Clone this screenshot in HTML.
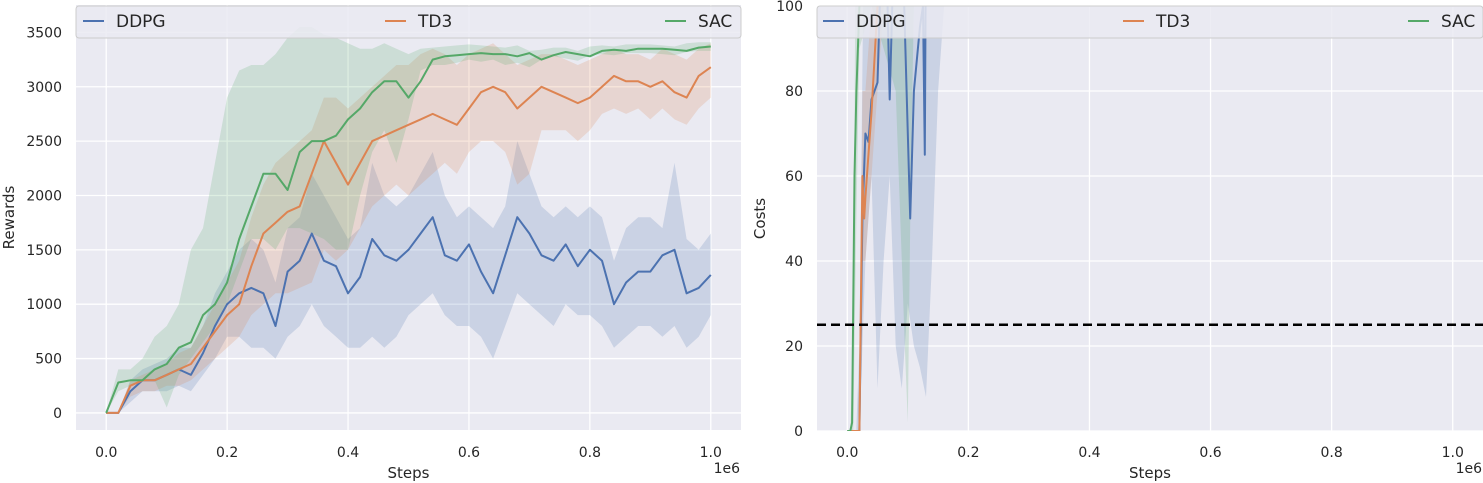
<!DOCTYPE html>
<html><head><meta charset="utf-8"><style>
html,body{margin:0;padding:0;background:#fff;}
svg{display:block;font-family:"DejaVu Sans","Liberation Sans",sans-serif;}
</style></head><body>
<svg id="c" width="1483" height="483" viewBox="0 0 1483 483" xmlns="http://www.w3.org/2000/svg">
<defs>
<clipPath id="clipL"><rect x="76" y="5" width="665" height="425"/></clipPath>
<clipPath id="clipR"><rect x="817" y="6" width="666" height="425"/></clipPath>
</defs>
</svg>
<script>
// ---- Rewards data (steps in 1e6, sampled every 0.02) ----
const rewardSteps = Array.from({length:51},(_, i)=>+(i*0.02).toFixed(2));
const ddpgMean = [0,0,200,300,300,350,400,350,550,800,1000,1100,1150,1100,800,1300,1400,1650,1400,1350,1100,1250,1600,1450,1400,1500,1650,1800,1450,1400,1550,1300,1100,1450,1800,1650,1450,1400,1550,1350,1500,1400,1000,1200,1300,1300,1450,1500,1100,1150,1270];
const ddpgLo = [0,0,100,200,200,200,250,200,350,500,700,700,600,600,500,700,800,1000,800,700,600,600,700,600,700,900,1000,1100,900,800,800,700,500,800,1100,1000,900,800,1000,900,900,800,600,700,800,800,700,800,600,700,900];
const ddpgHi = [0,0,300,400,450,500,600,600,800,1100,1300,1500,1600,1500,1200,1700,1800,2200,2000,1800,1600,1700,2300,2000,1900,2000,2200,2400,2000,1800,1900,1800,1700,1900,2500,2200,1900,1800,1900,1800,1900,1800,1400,1700,1800,1800,1700,2300,1600,1500,1650];
const td3Mean = [0,0,250,300,300,350,400,450,600,750,900,1000,1350,1650,1750,1850,1900,2200,2500,2300,2100,2300,2500,2550,2600,2650,2700,2750,2700,2650,2800,2950,3000,2950,2800,2900,3000,2950,2900,2850,2900,3000,3100,3050,3050,3000,3050,2950,2900,3100,3180];
const td3Lo = [0,0,150,200,200,250,250,300,400,500,600,700,900,1000,1100,1100,1150,1200,1500,1400,1500,1700,1900,2000,2100,2000,2100,2200,2300,2200,2400,2500,2500,2400,2100,2200,2600,2600,2600,2500,2600,2750,2800,2750,2800,2700,2800,2700,2650,2800,2900];
const td3Hi = [0,0,300,350,400,450,550,600,800,1000,1200,1400,1800,2100,2300,2400,2500,2600,2900,2900,2800,2900,3000,3100,3200,3200,3300,3350,3300,3200,3300,3350,3400,3300,3200,3250,3300,3300,3250,3200,3250,3300,3350,3300,3300,3250,3350,3300,3250,3350,3400];
const sacMean = [0,280,300,300,400,450,600,650,900,1000,1200,1600,1900,2200,2200,2050,2400,2500,2500,2550,2700,2800,2950,3050,3050,2900,3050,3250,3280,3290,3300,3310,3300,3300,3280,3310,3250,3290,3320,3300,3280,3330,3340,3330,3350,3350,3350,3340,3330,3360,3370];
const sacLo = [0,200,250,300,300,50,350,500,650,800,1000,1300,1600,1600,1500,1700,1700,1650,1600,1500,1500,2000,2400,2600,2300,2700,3150,3200,3200,3220,3250,3230,3250,3200,3220,3180,3250,3280,3260,3240,3290,3300,3290,3310,3310,3310,3300,3290,3320,3330,3330];
const sacHi = [0,400,400,500,700,800,1000,1500,1700,2300,2900,3150,3200,3200,3300,3450,3550,3550,3480,3450,3400,3350,3350,3400,3350,3300,3350,3360,3370,3380,3390,3380,3370,3360,3380,3330,3340,3360,3360,3330,3370,3380,3370,3390,3390,3390,3380,3370,3400,3410,3410];
const rewardTicks = [0,500,1000,1500,2000,2500,3000,3500];
const stepTicks = [0,0.2,0.4,0.6,0.8,1.0];
const stepTickLabels = ["0.0","0.2","0.4","0.6","0.8","1.0"];
// ---- Costs data ----
const ddpgCostSteps = [0,0.01,0.02,0.025,0.03,0.035,0.04,0.05,0.06,0.065,0.07,0.08,0.09,0.1,0.104,0.11,0.12,0.125,0.128,0.13,0.135];
const ddpgCost = [0,0,0,50,70,68,78,82,130,110,78,130,120,70,50,80,95,100,65,120,140];
const ddpgCostBandSteps = [0.015,0.02,0.03,0.04,0.05,0.06,0.07,0.08,0.09,0.1,0.11,0.12,0.13,0.14,0.15,0.16];
const ddpgCostLo = [0,0,40,60,10,40,60,20,10,30,20,15,8,40,80,100];
const ddpgCostHi = [1,20,150,150,150,150,150,150,150,150,150,150,150,150,150,150];
const td3CostSteps = [0,0.02,0.025,0.028,0.03,0.04,0.05,0.06];
const td3Cost = [0,0,60,50,55,75,100,140];
const td3CostBandSteps = [0.02,0.025,0.03,0.04,0.05,0.06];
const td3CostLo = [0,40,40,60,80,100];
const td3CostHi = [0,80,80,100,150,150];
const sacCostSteps = [0,0.005,0.008,0.012,0.015,0.02,0.03,0.05];
const sacCost = [0,0,2,60,80,100,150,160];
const sacCostBandSteps = [0.005,0.01,0.015,0.02,0.04,0.06,0.08,0.09,0.095,0.1,0.105,0.11];
const sacCostLo = [0,0,50,90,100,90,80,40,20,2,60,100];
const sacCostHi = [0,20,150,150,150,150,150,150,150,150,150,150];
const costTicks = [0,20,40,60,80,100];
const costThreshold = 25;

const C = {ddpg:"#4c72b0", td3:"#dd8452", sac:"#55a868"};
const NS = "http://www.w3.org/2000/svg";
const svg = document.getElementById('c');
function mk(tag, attrs, parent){ const e=document.createElementNS(NS,tag); for(const k in attrs) e.setAttribute(k,attrs[k]); (parent||svg).appendChild(e); return e; }

function axes(o){
  const xs = s => o.x0 + (s - o.xmin)/(o.xmax-o.xmin)*(o.x1-o.x0);
  const ys = v => o.y1 - (v - o.ymin)/(o.ymax-o.ymin)*(o.y1-o.y0);
  const g = mk('g',{});
  
  
  const bg = mk('rect',{x:o.x0,y:o.y0,width:o.x1-o.x0,height:o.y1-o.y0,fill:"#eaeaf2"},g);
  
  
  stepTicks.forEach((t,i)=>{
    const gl = mk('line',{x1:xs(t),x2:xs(t),y1:o.y0,y2:o.y1,stroke:"#fff","stroke-width":1.3},g);
    
    
    const tl = mk('text',{x:xs(t),y:457,"text-anchor":"middle","font-size":14,fill:"#262626"},g);
    tl.textContent = stepTickLabels[i];
    
    
  });
  o.yticks.forEach(t=>{
    const gl = mk('line',{x1:o.x0,x2:o.x1,y1:ys(t),y2:ys(t),stroke:"#fff","stroke-width":1.3},g);
    
    
    const tl = mk('text',{x:o.x0-14,y:ys(t)+5,"text-anchor":"end","font-size":14,fill:"#262626"},g);
    tl.textContent = String(t);
    
    
  });
  const xl = mk('text',{x:(o.x0+o.x1)/2,y:478,"text-anchor":"middle","font-size":15,fill:"#262626"},g);
  xl.textContent='Steps';
  
  
  const off = mk('text',{x:o.x1-1,y:473,"text-anchor":"end","font-size":14,fill:"#262626"},g);
  off.textContent='1e6';
  
  
  const yl = mk('text',{x:0,y:0,"text-anchor":"middle","font-size":15,fill:"#262626",transform:`translate(${o.ylabX},${(o.y0+o.y1)/2}) rotate(-90)`},g);
  yl.textContent=o.ylabel;
  
  
  const plot = mk('g',{"clip-path":`url(#${o.clip})`},g);
  return {xs,ys,g,plot};
}
function band(ax, steps, lo, hi, color, name){
  let d = steps.map((s,i)=>(i?'L':'M')+ax.xs(s).toFixed(1)+','+ax.ys(hi[i]).toFixed(1)).join('');
  for(let i=steps.length-1;i>=0;i--) d += 'L'+ax.xs(steps[i]).toFixed(1)+','+ax.ys(lo[i]).toFixed(1);
  const p = mk('path',{d:d+'Z',fill:color,"fill-opacity":0.2,stroke:"none"},ax.plot);
  
  
}
function line(ax, steps, vals, color, name){
  const d = steps.map((s,i)=>(i?'L':'M')+ax.xs(s).toFixed(1)+','+ax.ys(vals[i]).toFixed(1)).join('');
  const p = mk('path',{d,fill:"none",stroke:color,"stroke-width":2,"stroke-linejoin":"round"},ax.plot);
  
  
}
function legend(ax, x0, x1, items){
  const lg = mk('g',{},ax.g);
  
  
  mk('rect',{x:x0,y:6,width:x1-x0,height:32,rx:3,fill:"#eaeaf2","fill-opacity":0.85,stroke:"#cccccc"},lg);
  items.forEach(it=>{
    const e = mk('g',{},lg);
    
    
    mk('line',{x1:it.x,x2:it.x+21,y1:21,y2:21,stroke:it.color,"stroke-width":2},e);
    const t = mk('text',{x:it.x+33,y:27,"font-size":17,fill:"#262626"},e);
    t.textContent = it.label;
  });
}

// Left: rewards
const L = axes({name:'rewards-axes',x0:76,x1:741,y0:5,y1:430,xmin:-0.05,xmax:1.05,ymin:-157,ymax:3752,yticks:rewardTicks,ylabel:'Rewards',ylabX:14,clip:'clipL'});
band(L, rewardSteps, ddpgLo, ddpgHi, C.ddpg, 'ddpg-reward-band');
band(L, rewardSteps, td3Lo, td3Hi, C.td3, 'td3-reward-band');
band(L, rewardSteps, sacLo, sacHi, C.sac, 'sac-reward-band');
line(L, rewardSteps, ddpgMean, C.ddpg, 'ddpg-reward-line');
line(L, rewardSteps, td3Mean, C.td3, 'td3-reward-line');
line(L, rewardSteps, sacMean, C.sac, 'sac-reward-line');
legend(L, 76, 741, [{x:83,label:'DDPG',color:C.ddpg},{x:385,label:'TD3',color:C.td3},{x:665,label:'SAC',color:C.sac}]);

// Right: costs
const R = axes({name:'costs-axes',x0:817,x1:1483,y0:6,y1:431,xmin:-0.05,xmax:1.05,ymin:0,ymax:100,yticks:costTicks,ylabel:'Costs',ylabX:765,clip:'clipR'});
band(R, ddpgCostBandSteps, ddpgCostLo, ddpgCostHi, C.ddpg, 'ddpg-cost-band');
band(R, td3CostBandSteps, td3CostLo, td3CostHi, C.td3, 'td3-cost-band');
band(R, sacCostBandSteps, sacCostLo, sacCostHi, C.sac, 'sac-cost-band');
line(R, ddpgCostSteps, ddpgCost, C.ddpg, 'ddpg-cost-line');
line(R, td3CostSteps, td3Cost, C.td3, 'td3-cost-line');
line(R, sacCostSteps, sacCost, C.sac, 'sac-cost-line');
const th = mk('line',{x1:817,x2:1483,y1:R.ys(costThreshold),y2:R.ys(costThreshold),stroke:"#000","stroke-width":2.5,"stroke-dasharray":"9,5"},R.plot);


legend(R, 817, 1483, [{x:823,label:'DDPG',color:C.ddpg},{x:1123,label:'TD3',color:C.td3},{x:1408,label:'SAC',color:C.sac}]);
</script>
</body></html>
